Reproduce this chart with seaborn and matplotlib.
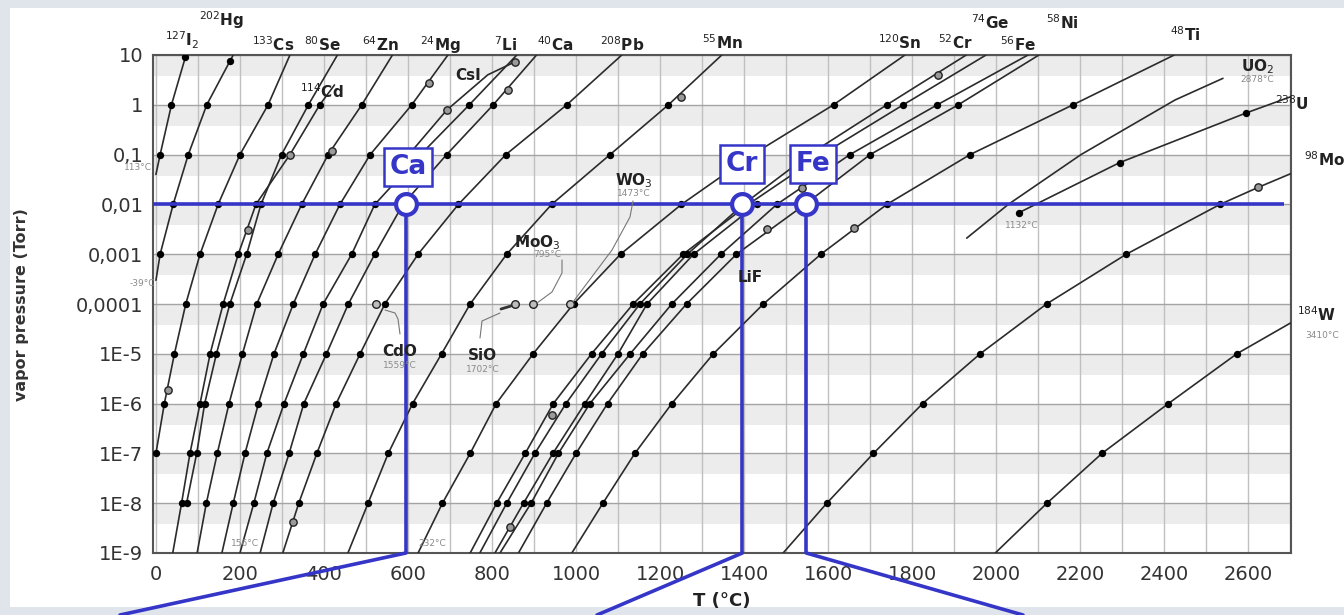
import numpy as np
import pandas as pd
import matplotlib
matplotlib.use('Agg')
import matplotlib.pyplot as plt
from matplotlib.patches import Rectangle
from matplotlib.lines import Line2D
from matplotlib.ticker import LogLocator, MultipleLocator, NullFormatter
import seaborn as sns

# --- DATA: temperature (°C) where each curve crosses a pressure (Torr) ---
DEC = [1e-9, 1e-8, 1e-7, 1e-6, 1e-5, 1e-4, 1e-3, 1e-2, 1e-1, 1, 10]
Y_LABELS = ['1E-9', '1E-8', '1E-7', '1E-6', '1E-5', '0,0001', '0,001', '0,01', '0,1', '1', '10']
X_TICKS = list(range(0, 2601, 200))

T_I2 = [0, 10, 37, 70]
P_I2 = [0.04, 0.1, 1, 9]
T_HG = [0, 10, 41, 77, 121, 176, 184]
P_HG = [3e-4, 1e-3, 1e-2, 0.1, 1, 7.5, 10]
T_CS = [0, 20, 44, 71, 105, 148, 200, 267, 319]
T_CD = [40, 61, 81, 105, 129, 160, 196, 238, 319, 390, 425]
P_CD = DEC[:10] + [2.5]
T_SE = [73, 97, 116, 144, 176, 216, 250, 299, 363, 432]
T_ZN = [98, 120, 146, 174, 206, 240, 291, 347, 410, 490, 563]
T_MG = [157, 184, 212, 244, 281, 327, 379, 438, 510, 609, 695]
T_LI = [200, 233, 264, 305, 351, 398, 466, 521, 630, 746, 859]
T_CA = [248, 279, 317, 352, 406, 458, 521, 588, 692, 803, 906]
T_PB = [302, 340, 383, 429, 486, 545, 624, 720, 833, 978, 1109]
T_MN = [457, 505, 553, 611, 680, 748, 835, 942, 1081, 1220, 1347]
T_SN = [624, 682, 748, 810, 898, 994, 1106, 1251, 1420, 1613, 1783]
T_GE = [748, 811, 879, 946, 1037, 1136, 1255, 1410, 1585, 1779, 1976]
T_CR = [771, 835, 902, 976, 1061, 1152, 1265, 1398, 1555, 1740, 1929]
T_LIF = [807, 875, 945, 1021, 1100, 1169, 1280, 1430]
T_FE = [819, 893, 958, 1033, 1129, 1228, 1345, 1478, 1652, 1860, 2076]
T_NI = [863, 930, 1000, 1075, 1159, 1263, 1382, 1545, 1700, 1910, 2102]
T_TI = [990, 1064, 1140, 1228, 1327, 1446, 1583, 1740, 1938, 2183, 2424]
T_MO = [1493, 1597, 1708, 1825, 1962, 2120, 2310, 2533, 2624, 2706]
P_MO = DEC[:8] + [0.022, 0.043]
T_W = [1998, 2121, 2252, 2410, 2573, 2706]
P_W = DEC[:5] + [4.4e-5]
T_U = [2054, 2294, 2596, 2706]
P_U = [6.8e-3, 0.069, 0.69, 1.5]
T_UO2 = [1930, 2029, 2202, 2426, 2540]
P_UO2 = [2.1e-3, 0.01, 0.1, 1.25, 3.4]
T_CSI = [610, 692, 790, 855]
P_CSI = [0.12, 0.78, 4.0, 7.3]

# melting points (open markers)
MP_T = [29, 220, 319, 420, 326, 651, 839, 843, 942, 1249, 1454, 1537, 1661, 1861, 2624, 692, 855]
MP_P = [1.9e-6, 3.1e-3, 0.1, 0.12, 4.1e-9, 2.8, 2.0, 3.4e-9, 5.9e-7, 1.46, 3.2e-3, 0.021, 3.3e-3, 4.0, 0.022, 0.78, 7.3]
# extra filled markers off the decade lines
XDOT_T = [70, 176, 2054, 2294, 2596]
XDOT_P = [9, 7.5, 6.8e-3, 0.069, 0.69]
# oxides marked at 1e-4 Torr
OX_T = [525, 855, 898, 986]

# overlay: 0.01 Torr cut
CUT_P = 0.01
CUT_NAMES = ['Ca', 'Cr', 'Fe']
CUT_T = [595, 1396, 1548]

curves = [
    ('I2', T_I2, P_I2), ('Hg', T_HG, P_HG), ('Cs', T_CS, DEC[2:]), ('Cd', T_CD, P_CD),
    ('Se', T_SE, DEC[1:]), ('Zn', T_ZN, DEC), ('Mg', T_MG, DEC), ('Li', T_LI, DEC),
    ('Ca', T_CA, DEC), ('Pb', T_PB, DEC), ('Mn', T_MN, DEC), ('Sn', T_SN, DEC),
    ('Ge', T_GE, DEC), ('Cr', T_CR, DEC), ('LiF', T_LIF, DEC[:8]), ('Fe', T_FE, DEC),
    ('Ni', T_NI, DEC), ('Ti', T_TI, DEC), ('Mo', T_MO, P_MO), ('W', T_W, P_W),
    ('U', T_U, P_U), ('UO2', T_UO2, P_UO2), ('CsI', T_CSI, P_CSI),
]
rows = []
for name, ts, ps in curves:
    for t, p in zip(ts, ps):
        rows.append((name, t, p))
df = pd.DataFrame(rows, columns=['el', 'T', 'P'])
is_dec = df['P'].isin(DEC[1:-1])
dots = df[is_dec & ~df['el'].isin(['UO2', 'CsI', 'U'])]

# --- FIGURE ---
sns.set_theme(style='white')
plt.rcParams['font.family'] = ['DejaVu Sans']
W, H = 1344, 615
fx = lambda x: x / W
fy = lambda y: 1 - y / H

fig = plt.figure(figsize=(13.44, 6.15), dpi=100, facecolor='#dfe5ea')
fig.add_artist(Rectangle((fx(10), fy(607)), 1 - fx(10), (607 - 8) / H, transform=fig.transFigure,
                         facecolor='white', edgecolor='none', zorder=-10))
ax = fig.add_axes([153 / W, 62 / H, 1138 / W, 498 / H])
ax.set_facecolor('white')
ax.set_yscale('log')
ax.set_xlim(-7, 2702)
ax.set_ylim(1e-9, 10)

for k in range(-8, 2):
    ax.axhspan(10 ** (k - 0.42), 10 ** k, color='#ececec', lw=0, zorder=0)

sns.lineplot(data=df, x='T', y='P', units='el', estimator=None, sort=False,
             color='#2b2b2b', lw=1.2, legend=False, ax=ax, zorder=3)
sns.scatterplot(data=dots, x='T', y='P', color='black', s=28, linewidth=0, legend=False, ax=ax, zorder=4)
sns.scatterplot(x=XDOT_T, y=XDOT_P, color='black', s=28, linewidth=0, legend=False, ax=ax, zorder=4)
sns.scatterplot(x=MP_T, y=MP_P, color='#9a9a9a', edgecolor='#222222', s=28, linewidth=1,
                legend=False, ax=ax, zorder=5)
sns.scatterplot(x=OX_T, y=[1e-4] * len(OX_T), color='#bdbdbd', edgecolor='#222222', s=30,
                linewidth=1, legend=False, ax=ax, zorder=5)

ax.set_yticks(DEC)
ax.set_yticklabels(Y_LABELS)
ax.yaxis.set_minor_locator(LogLocator(base=10, subs=np.arange(2, 10)))
ax.yaxis.set_minor_formatter(NullFormatter())
ax.set_xticks(X_TICKS)
ax.xaxis.set_minor_locator(MultipleLocator(100))
ax.set_axisbelow(True)
ax.grid(which='major', axis='y', color='#a4a4a4', lw=1.0)
ax.grid(which='minor', axis='y', color='#d8d8d8', lw=0.6)
ax.grid(which='both', axis='x', color='#c0c0c0', lw=1.0)
ax.tick_params(which='both', length=0)
ax.tick_params(axis='y', pad=7, labelsize=14, labelcolor='#333333')
ax.tick_params(axis='x', pad=9, labelsize=14, labelcolor='#333333')
ax.set_xlabel('')
ax.set_ylabel('')
for s in ax.spines.values():
    s.set_color('#555555')
    s.set_linewidth(1.5)

fig.text(fx(22), fy(305), 'vapor pressure (Torr)', rotation=90, fontsize=11.5, fontweight='bold',
         ha='center', va='center', color='#333333')
fig.text(fx(722), fy(601), 'T (°C)', fontsize=13, fontweight='bold', ha='center', va='center', color='#222222')

# curve labels
labels = [
    (r'$^{127}$I$_2$', 182, 40), (r'$^{202}$Hg', 222, 20), (r'$^{133}$Cs', 273, 45), (r'$^{80}$Se', 322, 45),
    (r'$^{64}$Zn', 380, 45), (r'$^{24}$Mg', 440, 45), (r'$^{7}$Li', 505, 45), (r'$^{40}$Ca', 555, 45),
    (r'$^{208}$Pb', 622, 45), (r'$^{55}$Mn', 722, 43), (r'$^{120}$Sn', 900, 43), (r'$^{52}$Cr', 955, 43),
    (r'$^{74}$Ge', 990, 23), (r'$^{56}$Fe', 1018, 45), (r'$^{58}$Ni', 1062, 23), (r'$^{48}$Ti', 1185, 35),
    ('UO$_2$', 1258, 67), (r'$^{238}$U', 1292, 104), (r'$^{114}$Cd', 322, 92), ('CsI', 468, 76),
    ('CdO', 400, 352), ('SiO', 482, 355), ('MoO$_3$', 537, 243), ('WO$_3$', 634, 181), ('LiF', 750, 277),
]
for txt, x, y in labels:
    fig.text(fx(x), fy(y), txt, fontsize=11, fontweight='bold', ha='center', va='center', color='#222222')
fig.text(fx(1304), fy(160), r'$^{98}$Mo', fontsize=11, fontweight='bold', ha='left', va='center', color='#222222')
fig.text(fx(1297), fy(315), r'$^{184}$W', fontsize=11, fontweight='bold', ha='left', va='center', color='#222222')

small = [('113°C', 138, 168), ('-39°C', 142, 284), ('156°C', 245, 543), ('232°C', 432, 543),
         ('1132°C', 1022, 226), ('2878°C', 1257, 80), ('3410°C', 1322, 336), ('1559°C', 400, 366),
         ('1702°C', 483, 369), ('795°C', 547, 255), ('1473°C', 634, 194)]
for txt, x, y in small:
    fig.text(fx(x), fy(y), txt, fontsize=6.5, ha='center', va='center', color='#8a8a8a')

leaders = [
    [(385, 310), (395, 313), (398, 319), (400, 334)],
    [(500, 313), (482, 321), (480, 338)],
    [(562, 260), (562, 273), (552, 292), (537, 303)],
    [(633, 201), (630, 217), (612, 250), (573, 302)],
]
for pts in leaders:
    fig.add_artist(Line2D([fx(p[0]) for p in pts], [fy(p[1]) for p in pts], color='#777777', lw=0.8, zorder=6))
fig.add_artist(Line2D([fx(501), fx(511)], [fy(309), fy(306)], color='#333333', lw=2, zorder=6))

# --- overlay ---
BLUE = '#3535c8'
ax.plot([-7, 2686], [CUT_P, CUT_P], color=BLUE, lw=2.6, zorder=8, solid_capstyle='butt')
ax.vlines(CUT_T, 1e-9, CUT_P, color=BLUE, lw=2.6, zorder=8)
for t, xb in zip(CUT_T, [120, 597, 1023]):
    ax.annotate('', xy=(t, 1e-9), xycoords='data', xytext=(xb, 0), textcoords='figure pixels',
                arrowprops=dict(arrowstyle='-', color=BLUE, lw=2.6, shrinkA=0, shrinkB=0), zorder=8)
ax.plot(CUT_T, [CUT_P] * len(CUT_T), 'o', ms=15, mfc='white', mec=BLUE, mew=3, zorder=9)
for name, x, y in zip(CUT_NAMES, [408, 742, 813], [167, 164, 164]):
    fig.text(fx(x), fy(y), name, fontsize=19, fontweight='bold', color=BLUE, ha='center', va='center',
             bbox=dict(boxstyle='square,pad=0.22', fc='white', ec=BLUE, lw=1.8), zorder=10)

fig.savefig('out.png', dpi=100, facecolor=fig.get_facecolor())
